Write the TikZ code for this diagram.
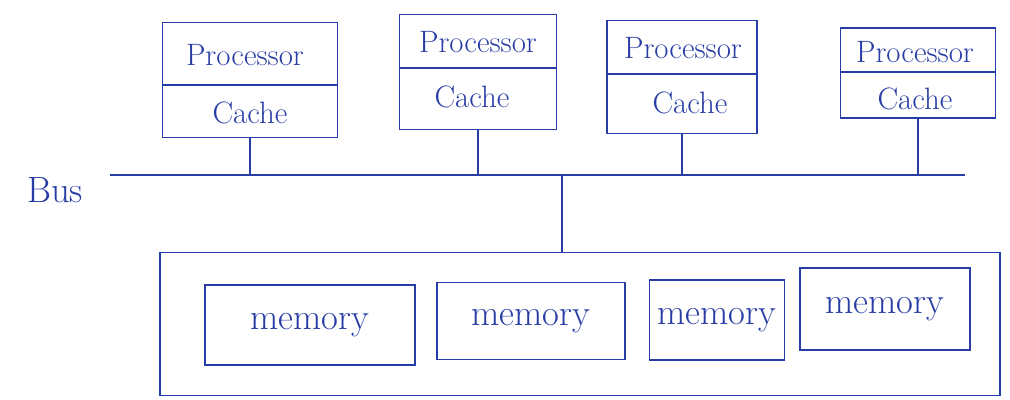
\documentclass[tikz,border=0pt]{standalone}
\usetikzlibrary{calc}
\definecolor{ink}{RGB}{40,60,165}
\tikzset{
  procbox/.style={draw,inner sep=0pt},
  membox/.style={draw,inner sep=0pt,font=\fontsize{26}{30}\selectfont},
  lbl/.style={font=\fontsize{22}{26}\selectfont}
}
\begin{document}
\begin{tikzpicture}[x=0.025cm,y=-0.025cm,ink,line width=1.2pt]
\useasboundingbox (0,0) rectangle (1010,400);
\node[procbox,minimum width=4.38cm,minimum height=2.88cm] (p1) at (250,80) {};
\node[lbl] (p1a) at (245,55) {Processor};
\node[lbl] (p1b) at (250,113) {Cache};
\draw (p1.west |- 0,85) -- (p1.east |- 0,85);
\node[procbox,minimum width=3.93cm,minimum height=2.88cm] (p2) at (478,72) {};
\node[lbl] (p2a) at (478,42) {Processor};
\node[lbl] (p2b) at (472,97) {Cache};
\draw (p2.west |- 0,68) -- (p2.east |- 0,68);
\node[procbox,minimum width=3.75cm,minimum height=2.83cm] (p3) at (682,77) {};
\node[lbl] (p3a) at (683,48) {Processor};
\node[lbl] (p3b) at (690,103) {Cache};
\draw (p3.west |- 0,74) -- (p3.east |- 0,74);
\node[procbox,minimum width=3.88cm,minimum height=2.25cm] (p4) at (918,73) {};
\node[lbl] (p4a) at (915,52) {Processor};
\node[lbl] (p4b) at (915,99) {Cache};
\draw (p4.west |- 0,72) -- (p4.east |- 0,72);
\node[lbl,font=\fontsize{26}{30}\selectfont] (bus) at (55,190) {Bus};
\coordinate (busL) at (110,175);
\coordinate (busR) at (965,175);
\draw (busL) -- (busR);
\foreach \p in {p1,p2,p3,p4}
  \draw (\p.south) -- (\p.south |- busL);
\node[procbox,minimum width=21cm,minimum height=3.58cm] (mem) at (580,324) {};
\coordinate (memtop) at (562,0);
\draw (memtop |- busL) -- (memtop |- mem.north);
\node[membox,minimum width=5.25cm,minimum height=2cm] (m1) at (310,325) {memory};
\node[membox,minimum width=4.7cm,minimum height=1.93cm] (m2) at (531,321) {memory};
\node[membox,minimum width=3.38cm,minimum height=2cm] (m3) at (717,320) {memory};
\node[membox,minimum width=4.25cm,minimum height=2.05cm] (m4) at (885,309) {memory};
\end{tikzpicture}
\end{document}
